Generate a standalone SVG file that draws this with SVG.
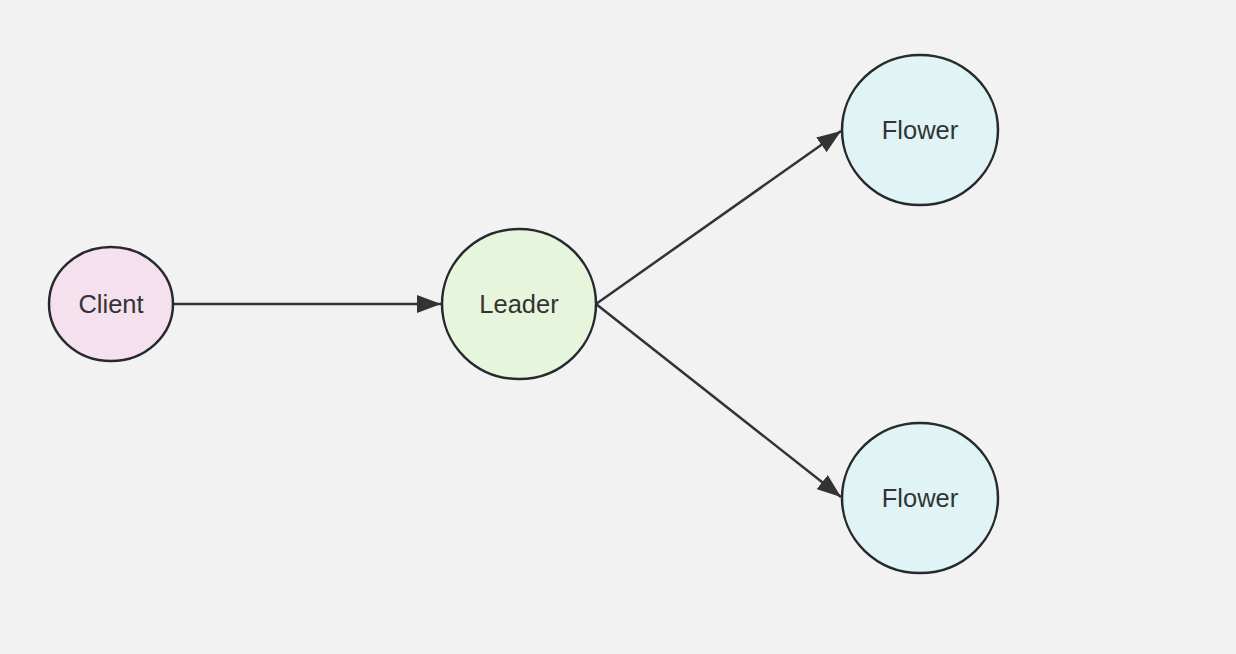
<svg xmlns="http://www.w3.org/2000/svg" width="1236" height="654" viewBox="0 0 1236 654">
<style>
.node ellipse{stroke:#262a2e;stroke-width:2.5}
.node text{font-family:"Liberation Sans",Arial,sans-serif;font-size:25.5px;fill:#333;text-anchor:middle;dominant-baseline:central}
.edge{stroke:#333;stroke-width:2.5;fill:none;marker-end:url(#arr)}
</style>
<defs>
<marker id="arr" viewBox="0 0 24 18" refX="24" refY="9" markerWidth="24" markerHeight="18" markerUnits="userSpaceOnUse" orient="auto">
<path d="M0,0 L24,9 L0,18 z" fill="#333"/>
</marker>
</defs>
<rect width="1236" height="654" fill="#f2f2f2"/>
<g id="connectors">
<line class="edge" x1="173" y1="304" x2="441" y2="304"/>
<line class="edge" x1="596" y1="304" x2="841" y2="131"/>
<line class="edge" x1="596" y1="304" x2="841" y2="497"/>
</g>
<g id="client" class="node"><ellipse cx="111" cy="304" rx="62" ry="57" fill="#f5e0ee"/><text x="111" y="304">Client</text></g>
<g id="leader" class="node"><ellipse cx="519" cy="304" rx="77" ry="75" fill="#e8f5dd"/><text x="519" y="304">Leader</text></g>
<g id="flower1" class="node"><ellipse cx="920" cy="130" rx="78" ry="75" fill="#e0f3f5"/><text x="920" y="130">Flower</text></g>
<g id="flower2" class="node"><ellipse cx="920" cy="498" rx="78" ry="75" fill="#e0f3f5"/><text x="920" y="498">Flower</text></g>
</svg>
